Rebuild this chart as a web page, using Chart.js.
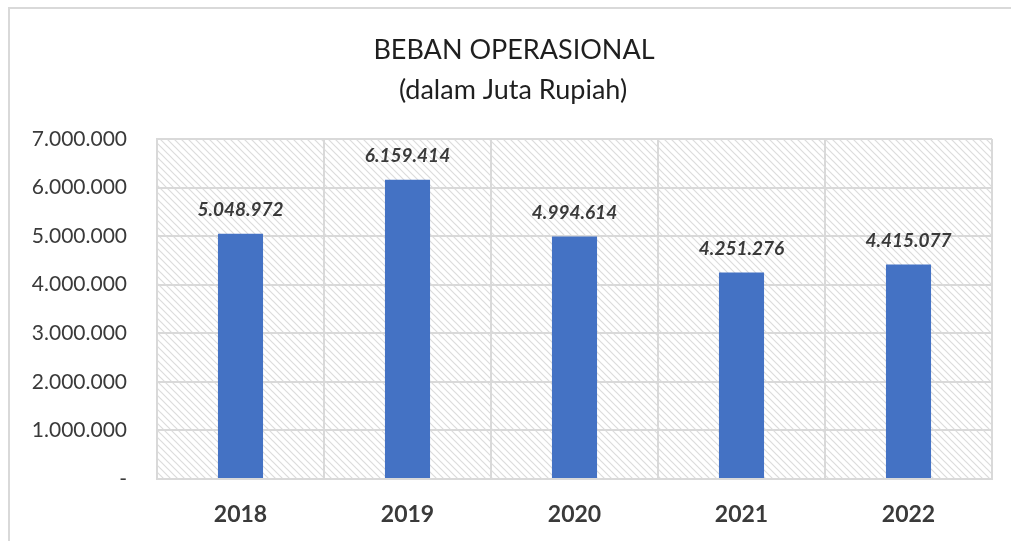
<!DOCTYPE html>
<html>
<head>
<meta charset="utf-8">
<script src="https://cdn.jsdelivr.net/npm/chart.js@4/dist/chart.umd.min.js"></script>
<style>
  html, body { margin: 0; padding: 0; background: #fff; }
  #wrap { width: 1011px; height: 541px; position: relative; }
</style>
</head>
<body>
<div id="wrap"><canvas id="bebanChart" width="1011" height="541"></canvas></div>
<script>
// ===== data =====
const tahun = ['2018', '2019', '2020', '2021', '2022'];
const bebanOperasional = [5048972, 6159414, 4994614, 4251276, 4415077];
const judul = ['BEBAN OPERASIONAL', '(dalam Juta Rupiah)'];
const sumbuYMax = 7000000;
const sumbuYStep = 1000000;

function formatTitik(n) {
    return n.toString().replace(/\B(?=(\d{3})+(?!\d))/g, '.');
}

// pola garis miring untuk area plot
function buatPola() {
    const c = document.createElement('canvas');
    c.width = 7; c.height = 7;
    const g = c.getContext('2d');
    g.fillStyle = '#ffffff';
    g.fillRect(0, 0, 7, 7);
    g.strokeStyle = '#dcdcdc';
    g.lineWidth = 1.2;
    g.beginPath();
    g.moveTo(-1, -1); g.lineTo(8, 8);
    g.moveTo(-8, -1); g.lineTo(1, 8);
    g.moveTo(6, -1); g.lineTo(15, 8);
    g.stroke();
    return g.createPattern(c, 'repeat');
}

const latarPlot = {
    id: 'latarPlot',
    beforeDraw(chart) {
        const { ctx, chartArea: a } = chart;
        ctx.save();
        // bingkai luar
        ctx.strokeStyle = '#d9d9d9';
        ctx.lineWidth = 2;
        ctx.beginPath();
        ctx.moveTo(9, 545);
        ctx.lineTo(9, 8);
        ctx.lineTo(1015, 8);
        ctx.stroke();
        // judul
        ctx.fillStyle = '#1f1f1f';
        ctx.font = '27px Lato, "Noto Sans", sans-serif';
        ctx.textAlign = 'center';
        ctx.textBaseline = 'middle';
        ctx.fillText(judul[0], 514, 50);
        ctx.fillText(judul[1], 513, 90);
        // pola
        ctx.fillStyle = buatPola();
        ctx.fillRect(a.left, a.top, a.right - a.left, a.bottom - a.top);
        ctx.restore();
    }
};

const labelNilai = {
    id: 'labelNilai',
    afterDatasetsDraw(chart) {
        const { ctx } = chart;
        const meta = chart.getDatasetMeta(0);
        ctx.save();
        ctx.fillStyle = '#3a3a3a';
        ctx.font = 'italic bold 19px Lato, "Noto Sans", sans-serif';
        ctx.textAlign = 'center';
        ctx.textBaseline = 'middle';
        meta.data.forEach((bar, i) => {
            ctx.fillText(formatTitik(bebanOperasional[i]), bar.x, bar.y - 24);
        });
        ctx.restore();
    }
};

const ctx = document.getElementById('bebanChart').getContext('2d');
const bebanChart = new Chart(ctx, {
    type: 'bar',
    data: {
        labels: tahun,
        datasets: [{
            data: bebanOperasional,
            backgroundColor: '#4472C4',
            borderWidth: 0,
            barPercentage: 0.27,
            categoryPercentage: 1
        }]
    },
    options: {
        responsive: false,
        animation: false,
        layout: {
            padding: { left: 10, right: 19, top: 139, bottom: 0 }
        },
        plugins: {
            legend: { display: false },
            title: { display: false },
            tooltip: { enabled: false }
        },
        scales: {
            y: {
                min: 0,
                max: sumbuYMax,
                afterFit(scale) { scale.width = 147; },
                ticks: {
                    stepSize: sumbuYStep,
                    padding: 30,
                    color: '#3a3a3a',
                    font: { family: 'Lato, "Noto Sans", sans-serif', size: 21 },
                    callback: v => v === 0 ? '-' : formatTitik(v)
                },
                grid: { color: '#d9d9d9', lineWidth: 2, drawTicks: false },
                border: { display: true, color: '#d9d9d9', width: 2 }
            },
            x: {
                afterFit(scale) { scale.height = 62; },
                ticks: {
                    padding: 22,
                    color: '#3a3a3a',
                    font: { family: 'Lato, "Noto Sans", sans-serif', size: 23, weight: 'bold' }
                },
                grid: { color: '#d9d9d9', lineWidth: 2, drawTicks: false, offset: true },
                border: { display: true, color: '#d9d9d9', width: 2 }
            }
        }
    },
    plugins: [latarPlot, labelNilai]
});
</script>
</body>
</html>
